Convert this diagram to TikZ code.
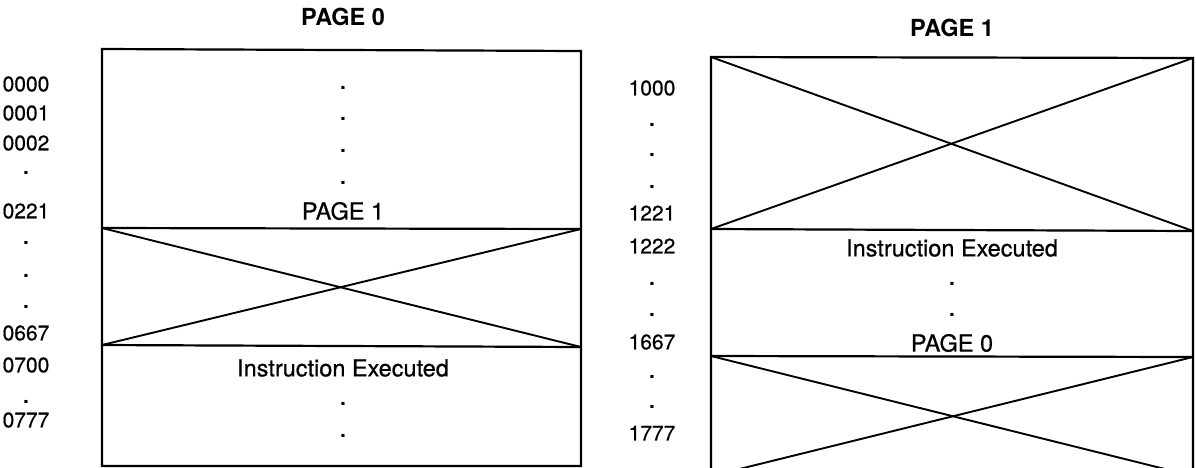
\documentclass[tikz,border=0pt]{standalone}
\usepackage{fontspec}
\setmainfont{TeX Gyre Heros}
\newfontfamily\medfont{TeX Gyre Heros}[FakeBold=0.6]
\begin{document}
\begin{tikzpicture}[x=1pt,y=-1pt,
  lbl/.style={inner sep=0pt,anchor=center,font=\medfont\fontsize{23.5}{26}\selectfont},
  num/.style={inner sep=0pt,anchor=center,font=\medfont\fontsize{21}{23}\selectfont},
  hdr/.style={inner sep=0pt,anchor=center,font=\fontsize{23.5}{26}\selectfont\bfseries},
  dotn/.style={inner sep=0pt,anchor=center,font=\fontsize{21}{23}\selectfont\bfseries},
  boxline/.style={line width=2.2pt},
  xline/.style={line width=1.9pt}]
\useasboundingbox (0,0) rectangle (1196,467);
% ---------- left: PAGE 0 ----------
\node[hdr] (h0) at (343,17) {PAGE 0};
\coordinate (L1) at (102,49);  \coordinate (R1) at (581,51);
\coordinate (L2) at (102,228); \coordinate (R2) at (581,229);
\coordinate (L3) at (102,345); \coordinate (R3) at (581,347);
\coordinate (L4) at (102,466); \coordinate (R4) at (581,466);
\draw[boxline] (L1) -- (R1) -- (R4) -- (L4) -- cycle;
\draw[boxline] (L2) -- (R2);
\draw[boxline] (L3) -- (R3);
\draw[xline] (L2) -- (R3);
\draw[xline] (L3) -- (R2);
\node[dotn] (d1) at (343,88) {.};
\node[dotn] (d2) at (343,119) {.};
\node[dotn] (d3) at (343,151) {.};
\node[dotn] (d4) at (343,183) {.};
\node[lbl] (p1in) at (343,211) {PAGE 1};
\node[lbl] (ie0) at (343,368) {Instruction Executed};
\node[dotn] (d5) at (343,404) {.};
\node[dotn] (d6) at (343,436) {.};
\node[num] (a0000) at (26,84) {0000};
\node[num] (a0001) at (26,113) {0001};
\node[num] (a0002) at (26,143) {0002};
\node[dotn] (ad1) at (26,173) {.};
\node[num] (a0221) at (26,211) {0221};
\node[dotn] (ad2) at (26,243) {.};
\node[dotn] (ad3) at (26,276) {.};
\node[dotn] (ad4) at (26,307) {.};
\node[num] (a0667) at (26,333) {0667};
\node[num] (a0700) at (26,365) {0700};
\node[dotn] (ad5) at (26,402) {.};
\node[num] (a0777) at (26,420) {0777};
% ---------- right: PAGE 1 ----------
\node[hdr] (h1) at (952,28) {PAGE 1};
\coordinate (M1) at (711,57);  \coordinate (N1) at (1193,58);
\coordinate (M2) at (711,229); \coordinate (N2) at (1193,231);
\coordinate (M3) at (711,356); \coordinate (N3) at (1193,357);
\coordinate (M4) at (711,476); \coordinate (N4) at (1193,476);
\draw[boxline] (M1) -- (N1) -- (N4) -- (M4) -- cycle;
\draw[boxline] (M2) -- (N2);
\draw[boxline] (M3) -- (N3);
\draw[xline] (M1) -- (N2);
\draw[xline] (M2) -- (N1);
\draw[xline] (M3) -- (N4);
\draw[xline] (M4) -- (N3);
\node[lbl] (ie1) at (952,248) {Instruction Executed};
\node[dotn] (e1) at (952,284) {.};
\node[dotn] (e2) at (952,315) {.};
\node[lbl] (p0in) at (952,343) {PAGE 0};
\node[num] (b1000) at (652,88) {1000};
\node[dotn] (bd1) at (652,125) {.};
\node[dotn] (bd2) at (652,155) {.};
\node[dotn] (bd3) at (652,187) {.};
\node[num] (b1221) at (652,213) {1221};
\node[num] (b1222) at (652,246) {1222};
\node[dotn] (bd4) at (652,284) {.};
\node[dotn] (bd5) at (652,315) {.};
\node[num] (b1667) at (652,342) {1667};
\node[dotn] (bd6) at (652,377) {.};
\node[dotn] (bd7) at (652,407) {.};
\node[num] (b1777) at (652,433) {1777};
\end{tikzpicture}
\end{document}
